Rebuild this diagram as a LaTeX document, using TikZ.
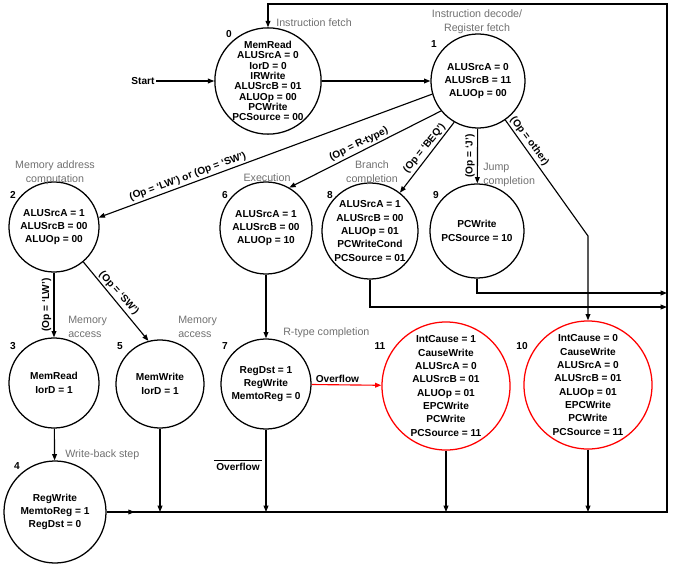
\documentclass[tikz,border=0pt]{standalone}
\usepackage{fontspec}
\setmainfont{Liberation Sans}
\usetikzlibrary{arrows.meta,decorations.markings}
\definecolor{lbl}{RGB}{112,112,112}
\newcommand\stfont{\fontsize{7.2}{9.5}\selectfont\bfseries}
\newcommand\stfonttight{\fontsize{7.2}{7.3}\selectfont\bfseries}
\newcommand\lblfont{\fontsize{7.6}{9.9}\selectfont}
\begin{document}
\begin{tikzpicture}[x=0.025cm,y=-0.025cm,
  st/.style={circle,draw,line width=0.9pt,inner sep=0pt,minimum size=#1*0.05cm,align=center,font=\stfont},
  tipstyle/.style={-{Triangle[length=4.5pt,width=3.4pt]}},
  arr/.style={line width=0.8pt,tipstyle},
  ln/.style={line width=0.8pt},
  midarr/.style={postaction={decorate},decoration={markings,mark=at position 0.7cm with {\arrow{Triangle[length=4.5pt,width=3.4pt]}}}},
  num/.style={font=\stfont,inner sep=1pt},
  elab/.style={font=\stfont,inner sep=1.5pt},
  gl/.style={font=\lblfont,text=lbl,align=center,inner sep=0pt},
  gll/.style={font=\lblfont,text=lbl,align=left,inner sep=0pt,anchor=west},
]
\useasboundingbox (0,0) rectangle (673,566);

% states
\node[st=53,font=\stfonttight] (n0) at (268,81) {MemRead\\ALUSrcA = 0\\IorD = 0\\IRWrite\\ALUSrcB = 01\\ALUOp = 00\\PCWrite\\PCSource = 00};
\node[st=47] (n1) at (478,81) {ALUSrcA = 0\\ALUSrcB = 11\\ALUOp = 00};
\node[st=45] (n2) at (54,227) {ALUSrcA = 1\\ALUSrcB = 00\\ALUOp = 00};
\node[st=46] (n6) at (266,228) {ALUSrcA = 1\\ALUSrcB = 00\\ALUOp = 10};
\node[st=48] (n8) at (370,231) {ALUSrcA = 1\\ALUSrcB = 00\\ALUOp = 01\\PCWriteCond\\PCSource = 01};
\node[st=47] (n9) at (477,231) {PCWrite\\PCSource = 10};
\node[st=45] (n3) at (54,383) {MemRead\\IorD = 1};
\node[st=44] (n5) at (160,384) {MemWrite\\IorD = 1};
\node[st=45] (n7) at (266,384) {RegDst = 1\\RegWrite\\MemtoReg = 0};
\node[st=64,draw=red] (n11) at (446,386) {IntCause = 1\\CauseWrite\\ALUSrcA = 0\\ALUSrcB = 01\\ALUOp = 01\\EPCWrite\\PCWrite\\PCSource = 11};
\node[st=64,draw=red] (n10) at (588,385) {IntCause = 0\\CauseWrite\\ALUSrcA = 0\\ALUSrcB = 01\\ALUOp = 01\\EPCWrite\\PCWrite\\PCSource = 11};
\node[st=51] (n4) at (55,512) {RegWrite\\MemtoReg = 1\\RegDst = 0};

% state numbers
\node[num] (l0) at (229,34) {0};
\node[num] (l1) at (434,44) {1};
\node[num] (l2) at (13,195) {2};
\node[num] (l6) at (225,195) {6};
\node[num] (l8) at (330,195) {8};
\node[num] (l9) at (436,195) {9};
\node[num] (l3) at (13,346) {3};
\node[num] (l5) at (120,346) {5};
\node[num] (l7) at (225,346) {7};
\node[num] (l11) at (380,346) {11};
\node[num] (l10) at (522,346) {10};
\node[num] (l4) at (17,466) {4};

% gray stage labels
\node[gll] (g0) at (276,23) {Instruction fetch};
\node[gl] (g1) at (477,22) {Instruction decode/\\Register fetch};
\node[gl] (g2) at (55,173) {Memory address\\computation};
\node[gl] (g6) at (267,178) {Execution};
\node[gl] (g8) at (372,173) {Branch\\completion};
\node[gll] (g9) at (483,175) {Jump\\completion};
\node[gll] (g3) at (68,327) {Memory\\access};
\node[gll] (g5) at (178,327) {Memory\\access};
\node[gll] (g7) at (283,333) {R-type completion};
\node[gll] (g4) at (65,455) {Write-back step};

% helper coordinates
\coordinate (br) at (667,512);
\coordinate (tr) at (667,4);
\coordinate (r8) at (667,307);
\coordinate (r9) at (667,293);
\coordinate (k10) at (588,236);

% start
\node[num] (start) at (143,81) {Start};
\draw[arr] (start) -- (n0);
\draw[arr] (n0) -- (n1);

% from state 1
\draw[arr] (n1.196) -- node[elab,pos=0.725,rotate=19.9,anchor=south]{(Op = ‘LW’) or (Op = ‘SW’)} (n2.12);
\draw[arr] (n1.219) -- node[elab,pos=0.52,rotate=26.1,anchor=south]{(Op = R-type)} (n6.60);
\draw[arr] (n1.240) -- node[elab,pos=0.44,rotate=50.9,anchor=south]{(Op = ‘BEQ’)} (n8.52);
\draw[arr] (n1) -- node[elab,pos=0.5,rotate=90,anchor=south]{(Op = ‘J’)} (n9);
\draw[arr] (n1.-55) -- node[elab,pos=0.22,rotate=-53.5,anchor=south]{(Op = other)} (k10) -- (n10);

% from state 2
\draw[arr] (n2) -- node[elab,pos=0.5,rotate=90,anchor=south]{(Op = ‘LW’)} (n3);
\draw[arr] (n2.-50) -- node[elab,pos=0.46,rotate=-48.4,anchor=south]{(Op = ‘SW’)} (n5.105);

\draw[arr] (n3) -- (n4);
\draw[arr] (n6) -- (n7);
\draw[arr,red] (n7) -- node[elab,pos=0.37,above,text=black]{Overflow} (n11);

% to the right return line
\draw[arr] (n8) |- (r8);
\draw[arr] (n9) |- (r9);

% to the bottom return line
\draw[arr] (n5) -- (n5 |- br);
\draw[arr] (n7) -- (n7 |- br);
\draw[arr] (n11) -- (n11 |- br);
\draw[arr] (n10) -- (n10 |- br);

% main return loop
\draw[arr,midarr] (n4) -- (br) -- (tr) -| (n0);

% overflow-bar label
\node[elab] (ov) at (238,467) {Overflow};
\draw[line width=0.7pt] (ov.north west) -- (ov.north east);
\end{tikzpicture}
\end{document}
